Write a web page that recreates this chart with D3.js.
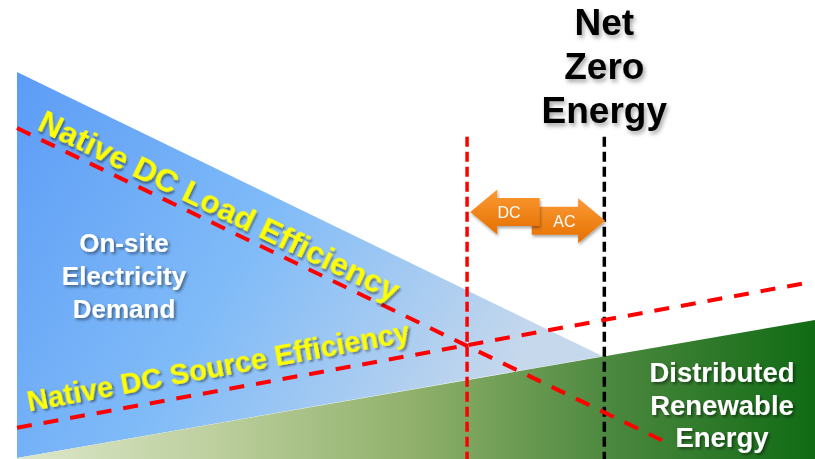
<html>
<head>
<script src="https://d3js.org/d3.v7.min.js"></script>
<style>
  body { margin: 0; background: #fff; }
  text { font-family: "Liberation Sans", Arial, sans-serif; }
</style>
</head>
<body>
<script>
// conceptual units: x 0..100 across, y 0..100 up
var demandArea = [[0, 84.3], [73.4, 22.4], [0, 0.2]];
var renewableArea = [[0, 0.2], [100, 30.3], [100, 0], [0, 0]];
var loadLine = [[0, 72.1], [80.8, 4.1]];
var sourceLine = [[0, 6.8], [98.7, 38.3]];
var dcLimit = [[56.4, 70.2], [56.4, 0]];
var netZero = [[73.6, 70.2], [73.6, 0]];
// arrows: [from x, to x (tip), centre y, label]
var arrows = [
  {label: "AC", tail: 64.5, tip: 73.7, y: 51.9},
  {label: "DC", tail: 65.5, tip: 56.8, y: 53.8}
];
var titleLines = ["Net", "Zero", "Energy"];
var demandLines = ["On-site", "Electricity", "Demand"];
var renewLines = ["Distributed", "Renewable", "Energy"];

var W = 815, H = 459;
var svg = d3.select("body").append("svg")
    .attr("width", W)
    .attr("height", H);

var x = d3.scaleLinear().domain([0, 100]).range([17, 815]);
var y = d3.scaleLinear().domain([0, 100]).range([459, 0]);
var line = d3.line().x(function(d) { return x(d[0]); }).y(function(d) { return y(d[1]); });

var defs = svg.append("defs");

var blue = defs.append("linearGradient").attr("id", "blueGrad")
    .attr("x1", 0).attr("y1", 0).attr("x2", 1).attr("y2", 0.4);
blue.append("stop").attr("offset", 0).attr("stop-color", "#5c9cf6");
blue.append("stop").attr("offset", 0.5).attr("stop-color", "#80bbf8");
blue.append("stop").attr("offset", 1).attr("stop-color", "#c6d8ec");

var green = defs.append("linearGradient").attr("id", "greenGrad")
    .attr("x1", 0).attr("y1", 0).attr("x2", 1).attr("y2", 0);
green.append("stop").attr("offset", 0).attr("stop-color", "#dde7ca");
green.append("stop").attr("offset", 0.25).attr("stop-color", "#bccf9d");
green.append("stop").attr("offset", 0.5).attr("stop-color", "#8fb06a");
green.append("stop").attr("offset", 0.75).attr("stop-color", "#4a873e");
green.append("stop").attr("offset", 1).attr("stop-color", "#106b14");

var orange = defs.append("linearGradient").attr("id", "orangeGrad")
    .attr("x1", 0).attr("y1", 0).attr("x2", 0).attr("y2", 1);
orange.append("stop").attr("offset", 0).attr("stop-color", "#fb9a35");
orange.append("stop").attr("offset", 1).attr("stop-color", "#e57000");

function shadow(id, dx, dy, blur, op) {
  defs.append("filter").attr("id", id)
      .attr("x", "-20%").attr("y", "-20%").attr("width", "140%").attr("height", "140%")
    .append("feDropShadow")
      .attr("dx", dx).attr("dy", dy).attr("stdDeviation", blur)
      .attr("flood-color", "#000").attr("flood-opacity", op);
}
shadow("shW", 2, 2, 1.5, 0.45);
shadow("shY", 2, 2, 1.2, 0.45);
shadow("shK", 2, 3, 2, 0.35);
shadow("shO", 1, 2, 1.5, 0.35);

// areas
svg.append("path").attr("d", line(demandArea) + "Z").attr("fill", "url(#blueGrad)");
svg.append("path").attr("d", line(renewableArea) + "Z").attr("fill", "url(#greenGrad)");

// vertical markers
svg.append("path").attr("d", line(dcLimit))
    .attr("stroke", "#ff0000").attr("stroke-width", 3.5).attr("stroke-dasharray", "10,5").attr("fill", "none");
svg.append("path").attr("d", line(netZero))
    .attr("stroke", "#000").attr("stroke-width", 3.5).attr("stroke-dasharray", "10,5").attr("fill", "none");

// efficiency lines
[loadLine, sourceLine].forEach(function(l) {
  svg.append("path").attr("d", line(l))
      .attr("stroke", "#ff0000").attr("stroke-width", 4).attr("stroke-dasharray", "15,12").attr("fill", "none");
});

// labels along lines
function lineLabel(l, startPx, lift, size, txt) {
  var x0 = x(l[0][0]), y0 = y(l[0][1]), x1 = x(l[1][0]), y1 = y(l[1][1]);
  var slope = (y1 - y0) / (x1 - x0);
  var ang = Math.atan(slope) * 180 / Math.PI;
  var py = y0 + slope * (startPx - x0) - lift;
  svg.append("text")
      .attr("transform", "translate(" + startPx + "," + py + ") rotate(" + ang + ")")
      .attr("font-size", size).attr("font-weight", "bold")
      .attr("fill", "#ffff00").attr("filter", "url(#shY)")
      .text(txt);
}
lineLabel(loadLine, 36, 8, 32, "Native DC Load Efficiency");
lineLabel(sourceLine, 29, 14, 29, "Native DC Source Efficiency");

// AC / DC arrows
function arrowPath(a, bodyH, headH, headL) {
  var tip = x(a.tip), tail = x(a.tail), cy = y(a.y);
  var dir = tip > tail ? 1 : -1;
  var hb = tip - dir * headL;
  return "M" + tail + "," + (cy - bodyH) + "L" + hb + "," + (cy - bodyH) +
    "L" + hb + "," + (cy - headH) + "L" + tip + "," + cy +
    "L" + hb + "," + (cy + headH) + "L" + hb + "," + (cy + bodyH) +
    "L" + tail + "," + (cy + bodyH) + "Z";
}
arrows.forEach(function(a) {
  var g = svg.append("g").attr("filter", "url(#shO)");
  g.append("path").attr("d", arrowPath(a, 14, 22.5, 27)).attr("fill", "url(#orangeGrad)");
  g.append("text")
      .attr("x", (x(a.tip) + x(a.tail)) / 2 + (a.tip > a.tail ? -4 : 4))
      .attr("y", y(a.y) + 6)
      .attr("text-anchor", "middle").attr("font-size", 16).attr("fill", "#fff")
      .text(a.label);
});

// block labels
function block(lines, cx, y0, gap, size, fill, filt) {
  svg.append("g").selectAll("text").data(lines).enter().append("text")
      .attr("x", cx).attr("y", function(d, i) { return y0 + i * gap; })
      .attr("text-anchor", "middle").attr("font-size", size).attr("font-weight", "bold")
      .attr("fill", fill).attr("filter", filt)
      .text(function(d) { return d; });
}
block(titleLines, x(73.6), 35, 44, 37, "#000", "url(#shK)");
block(demandLines, 124, 252, 33, 26, "#fff", "url(#shW)");
block(renewLines, 722, 382, 32.5, 27.5, "#fff", "url(#shW)");
</script>
</body>
</html>
